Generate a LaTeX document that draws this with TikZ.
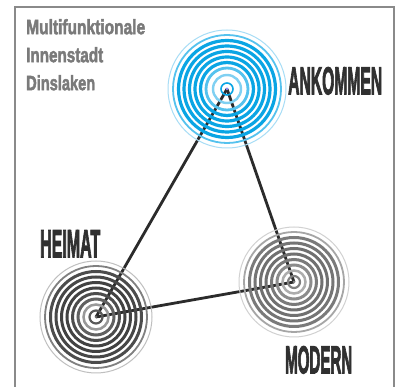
\documentclass[tikz,border=0pt]{standalone}
\usepackage{fontspec}
\setmainfont{Liberation Sans}
\newfontfamily\heavyfont{Liberation Sans Bold}[FakeBold=3.5]
\newfontfamily\subfont{Liberation Sans Bold}[FakeBold=2.5]
\usepackage{graphicx}
\definecolor{frame}{HTML}{8A8A8A}
\definecolor{linec}{HTML}{2B2B2B}
\definecolor{titlec}{HTML}{303030}
\definecolor{subc}{HTML}{7A7A7A}
\definecolor{bA}{HTML}{A8DDF6}
\definecolor{bB}{HTML}{55C2EE}
\definecolor{bC}{HTML}{0AA5E4}
\definecolor{bD}{HTML}{7FD0F2}
\tikzset{
  ringline/.style={draw, fill=none},
  conn/.style={draw=linec, line width=2.8pt},
  label/.style={anchor=north west, inner sep=0pt, text=titlec, font=\heavyfont},
  sub/.style={anchor=north west, inner sep=0pt, text=subc, font=\subfont},
}
\begin{document}
\begin{tikzpicture}[x=1pt,y=-1pt]
\useasboundingbox (0,0) rectangle (397,387);
\fill[white] (0,0) rectangle (397,387);
% frame
\draw[frame, line width=1.5pt] (15,387) -- (15,7) -- (394,7) -- (394,387);
% centres
\coordinate (A) at (227,89);
\coordinate (H) at (96,317);
\coordinate (M) at (294,282);
% connectors
\draw[conn] (A) -- (H);
\draw[conn] (A) -- (M);
\draw[conn] (H) -- (M);
% ANKOMMEN rings
\foreach \r/\w/\c in {59/1.0/bA, 54/1.8/bB, 48.5/3.2/bC, 43/3.2/bC, 37.5/3.2/bC, 32/3.2/bC, 26.5/3.2/bC, 21/2.8/bB, 14/2.4/bD, 6/1.6/bC}
  \draw[ringline, draw=\c, line width=\w pt] (A) circle[radius=\r];
\fill[bB!70!magenta] (A) circle[radius=1.5];
% HEIMAT rings
\foreach \r/\w/\c in {56/1.0/black!25, 51/1.8/black!50, 45.5/3/black!70, 40/3/black!72, 34.5/3/black!74, 29/3/black!74, 23.5/3/black!70, 18/3/black!62, 12.5/2.5/black!40, 6.5/2.2/black!65}
  \draw[ringline, draw=\c, line width=\w pt] (H) circle[radius=\r];
\fill[black!60] (H) circle[radius=1.5];
% MODERN rings
\foreach \r/\w/\c in {55/1.0/black!18, 50/1.8/black!35, 44.5/3/black!52, 39/3/black!54, 33.5/3/black!56, 28/3/black!56, 22.5/3/black!52, 17/3/black!45, 11.5/2.5/black!32, 6/2.2/black!50}
  \draw[ringline, draw=\c, line width=\w pt] (M) circle[radius=\r];
\fill[black!50] (M) circle[radius=1.5];
% labels
\node[label] (tA) at (288,67) {\resizebox{94pt}{27pt}{ANKOMMEN}};
\node[label] (tH) at (40,230) {\resizebox{60pt}{27pt}{HEIMAT}};
\node[label] (tM) at (285,346) {\resizebox{67pt}{27pt}{MODERN}};
\node[sub] (s1) at (26,19) {\resizebox{119pt}{15pt}{Multifunktionale}};
\node[sub] (s2) at (26,47) {\resizebox{77pt}{15pt}{Innenstadt}};
\node[sub] (s3) at (26,75) {\resizebox{69pt}{15pt}{Dinslaken}};
\end{tikzpicture}
\end{document}
